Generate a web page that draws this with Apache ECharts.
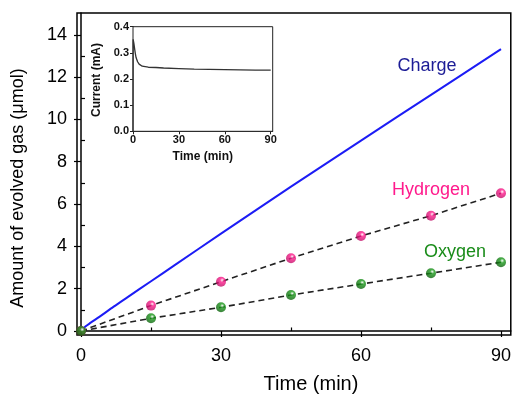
<!DOCTYPE html>
<html>
<head>
<meta charset="utf-8">
<script src="https://cdn.jsdelivr.net/npm/echarts@6/dist/echarts.min.js"></script>
<style>html,body{margin:0;padding:0;background:#fff}#c{width:514px;height:397px}</style>
</head>
<body>
<div id="c"></div>
<script>
// ---- data ----
const gasTime = [0, 15, 30, 45, 60, 75, 90];
const hydrogen = [0, 1.20, 2.33, 3.44, 4.49, 5.45, 6.51];
const oxygen = [0, 0.60, 1.12, 1.70, 2.22, 2.73, 3.25];
const chargeTime = [0, 1, 2, 4, 7, 10, 15, 20, 30, 45, 60, 75, 90];
const charge = [0, 0.22, 0.38, 0.68, 1.15, 1.60, 2.35, 3.10, 4.60, 6.82, 9.00, 11.16, 13.32];
const insetTime = [0, 0.1, 0.3, 0.6, 1, 1.5, 2, 3, 4, 5, 6, 8, 10, 15, 20, 30, 40, 50, 60, 70, 80, 90];
const insetCurrent = [0, 0.352, 0.348, 0.335, 0.318, 0.298, 0.282, 0.266, 0.257, 0.252, 0.249, 0.247, 0.245, 0.244, 0.242, 0.240, 0.238, 0.237, 0.236, 0.235, 0.234, 0.234];
const xMajor = [0, 30, 60, 90];
const xMinor = [15, 45, 75];
const yMajor = [0, 2, 4, 6, 8, 10, 12, 14];
const yMinor = [1, 3, 5, 7, 9, 11, 13];
const inXMajor = [0, 30, 60, 90];
const inXMinor = [15, 45, 75];
const inYMajor = [0, 0.1, 0.2, 0.3, 0.4];
const inYMinor = [0.05, 0.15, 0.25, 0.35];

const FONT = 'Liberation Sans, Arial, sans-serif';
const pair = (xs, ys) => xs.map((x, i) => [x, ys[i]]);
function sphere(c, dark) {
  return {type: 'radial', x: 0.62, y: 0.35, r: 0.7,
    colorStops: [{offset: 0, color: '#ffffff'}, {offset: 0.3, color: c}, {offset: 1, color: dark}]};
}
function axisBase(extra) {
  return Object.assign({type: 'value', splitLine: {show: false}}, extra);
}

const chart = echarts.init(document.getElementById('c'));
chart.setOption({
  animation: false,
  backgroundColor: '#fff',
  grid: [
    {left: 77, top: 13, width: 434, height: 322, show: true, borderColor: '#000', borderWidth: 1.5},
    {left: 133, top: 26.7, width: 139.7, height: 104.6, show: true, borderColor: '#222', borderWidth: 1, backgroundColor: '#fff', z: 5}
  ],
  xAxis: [
    axisBase({gridIndex: 0, min: -0.86, max: 92.1,
      axisLine: {lineStyle: {color: '#000', width: 1.5}},
      axisTick: {show: true, length: 6, customValues: xMajor, lineStyle: {color: '#000', width: 1.2}},
      axisLabel: {customValues: xMajor, margin: 12, color: '#000', fontSize: 18, fontFamily: FONT}}),
    axisBase({gridIndex: 0, min: -0.86, max: 92.1,
      axisLine: {show: false},
      axisTick: {show: true, length: 3.5, customValues: xMinor, lineStyle: {color: '#000', width: 1.2}},
      axisLabel: {show: false}}),
    axisBase({gridIndex: 1, min: 0, max: 91.3,
      axisLine: {lineStyle: {color: '#222', width: 1}},
      axisTick: {show: true, length: 3, customValues: inXMajor, lineStyle: {color: '#222'}},
      axisLabel: {customValues: inXMajor, margin: 3, color: '#111', fontSize: 11, fontWeight: 'bold', fontFamily: FONT}}),
    axisBase({gridIndex: 1, min: 0, max: 91.3,
      axisLine: {show: false},
      axisTick: {show: true, length: 2, customValues: inXMinor, lineStyle: {color: '#222'}},
      axisLabel: {show: false}})
  ],
  yAxis: [
    axisBase({gridIndex: 0, min: -0.19, max: 15.03,
      axisLine: {lineStyle: {color: '#000', width: 1.5}},
      axisTick: {show: true, length: 7, customValues: yMajor, lineStyle: {color: '#000', width: 1.2}},
      axisLabel: {customValues: yMajor, margin: 10, color: '#000', fontSize: 18, fontFamily: FONT}}),
    axisBase({gridIndex: 0, min: -0.19, max: 15.03,
      axisLine: {show: false},
      axisTick: {show: true, length: 4, customValues: yMinor, lineStyle: {color: '#000', width: 1.2}},
      axisLabel: {show: false}}),
    axisBase({gridIndex: 1, min: 0, max: 0.4,
      axisLine: {lineStyle: {color: '#222', width: 1}},
      axisTick: {show: true, length: 3, customValues: inYMajor, lineStyle: {color: '#222'}},
      axisLabel: {customValues: inYMajor, margin: 4, color: '#111', fontSize: 11, fontWeight: 'bold', fontFamily: FONT,
        formatter: v => v.toFixed(1)}}),
    axisBase({gridIndex: 1, min: 0, max: 0.4,
      axisLine: {show: false},
      axisTick: {show: true, length: 2, customValues: inYMinor, lineStyle: {color: '#222'}},
      axisLabel: {show: false}})
  ],
  series: [
    {type: 'line', xAxisIndex: 0, yAxisIndex: 0, data: pair(gasTime, hydrogen), symbol: 'none',
      lineStyle: {color: '#222', width: 1.6, type: [6, 4]}, z: 2},
    {type: 'line', xAxisIndex: 0, yAxisIndex: 0, data: pair(gasTime, oxygen), symbol: 'none',
      lineStyle: {color: '#222', width: 1.6, type: [6, 4]}, z: 2},
    {type: 'line', xAxisIndex: 0, yAxisIndex: 0, data: pair(chargeTime, charge), symbol: 'none', smooth: 0.3,
      lineStyle: {color: '#1c1cf5', width: 2}, z: 3},
    {type: 'scatter', xAxisIndex: 0, yAxisIndex: 0, data: pair(gasTime, hydrogen), symbolSize: 10,
      itemStyle: {color: sphere('#ff1a8c', '#b80d62')}, z: 4},
    {type: 'scatter', xAxisIndex: 0, yAxisIndex: 0, data: pair(gasTime, oxygen), symbolSize: 10,
      itemStyle: {color: sphere('#1a9a1a', '#0a5c0a')}, z: 4},
    {type: 'line', xAxisIndex: 2, yAxisIndex: 2, data: pair(insetTime, insetCurrent), symbol: 'none',
      lineStyle: {color: '#333', width: 1.3}, z: 6}
  ],
  graphic: [
    {type: 'text', x: 18, y: 188, rotation: Math.PI / 2, z: 10,
      style: {text: 'Amount of evolved gas (\u03bcmol)', x: 0, y: 0, align: 'center', verticalAlign: 'middle',
        font: '18px ' + FONT, fill: '#000'}},
    {type: 'text', z: 10, style: {text: 'Time (min)', x: 311, y: 384, align: 'center', verticalAlign: 'middle',
        font: '20px ' + FONT, fill: '#000'}},
    {type: 'text', z: 10, style: {text: 'Time (min)', x: 202.8, y: 157, align: 'center', verticalAlign: 'middle',
        font: 'bold 12px ' + FONT, fill: '#111'}},
    {type: 'text', x: 97, y: 80, rotation: Math.PI / 2, z: 10,
      style: {text: 'Current (mA)', x: 0, y: 0, align: 'center', verticalAlign: 'middle',
        font: 'bold 12px ' + FONT, fill: '#111'}},
    {type: 'text', z: 10, style: {text: 'Charge', x: 427, y: 66, align: 'center', verticalAlign: 'middle',
        font: '18px ' + FONT, fill: '#1c1c96'}},
    {type: 'text', z: 10, style: {text: 'Hydrogen', x: 431, y: 190, align: 'center', verticalAlign: 'middle',
        font: '18px ' + FONT, fill: '#ff1a8c'}},
    {type: 'text', z: 10, style: {text: 'Oxygen', x: 455, y: 252, align: 'center', verticalAlign: 'middle',
        font: '18px ' + FONT, fill: '#1a8c1a'}}
  ]
});
</script>
</body>
</html>
